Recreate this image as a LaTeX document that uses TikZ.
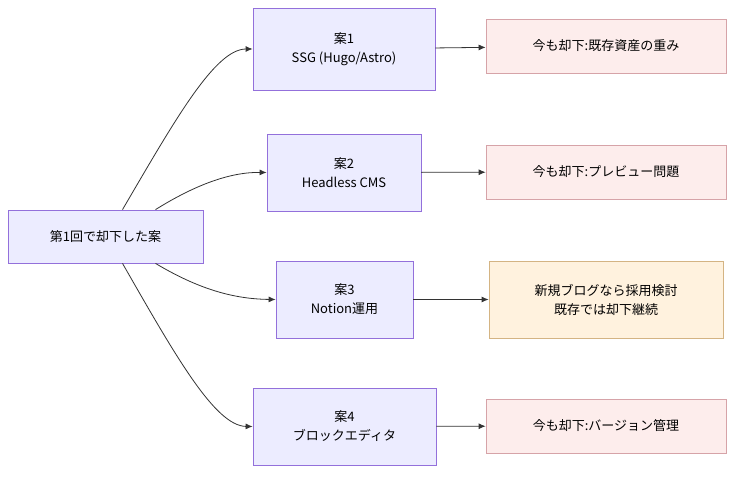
\documentclass[tikz,border=0pt]{standalone}
\usepackage{fontspec}
\setmainfont{Noto Sans CJK JP}
\usetikzlibrary{arrows.meta}
\definecolor{pf}{HTML}{ECECFF}\definecolor{ps}{HTML}{9370DB}
\definecolor{rf}{HTML}{FDEDEC}\definecolor{rs}{HTML}{D6A3A8}
\definecolor{cf}{HTML}{FFF2DE}\definecolor{cs}{HTML}{D4B483}
\begin{document}
\begin{tikzpicture}[x=1pt,y=-1pt,
 box/.style={draw=ps,fill=pf,line width=0.8pt,align=center,font=\fontsize{13}{19}\selectfont,inner sep=0pt},
 red/.style={draw=rs,fill=rf,line width=0.8pt,align=center,font=\fontsize{13}{19}\selectfont,inner sep=0pt,minimum width=240,minimum height=54},
 ar/.style={draw=black!80,line width=0.8pt,-{Latex[length=7pt,width=6pt]}}]
\useasboundingbox (0,0) rectangle (742,478);
\node[box,minimum width=195,minimum height=53] (r) at (105.5,236.5) {第1回で却下した案};
\node[box,minimum width=182,minimum height=82] (a1) at (344,49) {案1\\SSG (Hugo/Astro)};
\node[box,minimum width=154,minimum height=77] (a2) at (344,172.5) {案2\\Headless CMS};
\node[box,minimum width=137,minimum height=77] (a3) at (344.5,299.5) {案3\\Notion運用};
\node[box,minimum width=183,minimum height=77] (a4) at (344.5,426.5) {案4\\ブロックエディタ};
\node[red] (b1) at (606,46) {今も却下:既存資産の重み};
\node[red] (b2) at (606,172) {今も却下:プレビュー問題};
\node[red,draw=cs,fill=cf,minimum width=234,minimum height=77] (b3) at (606,299.5) {新規ブログなら採用検討\\既存では却下継続};
\node[red] (b4) at (606,426) {今も却下:バージョン管理};
\draw[ar] ([xshift=17]r.north) .. controls (175,120) and (215,49) .. (a1.west);
\draw[ar] ([xshift=50]r.north) .. controls (195,185) and (230,172) .. (a2.west);
\draw[ar] ([xshift=50]r.south) .. controls (200,290) and (235,299) .. (a3.west);
\draw[ar] ([xshift=17]r.south) .. controls (175,355) and (215,426) .. (a4.west);
\draw[ar] (a1) -- (b1);
\draw[ar] (a2) -- (b2);
\draw[ar] (a3) -- (b3);
\draw[ar] (a4) -- (b4);
\end{tikzpicture}
\end{document}
